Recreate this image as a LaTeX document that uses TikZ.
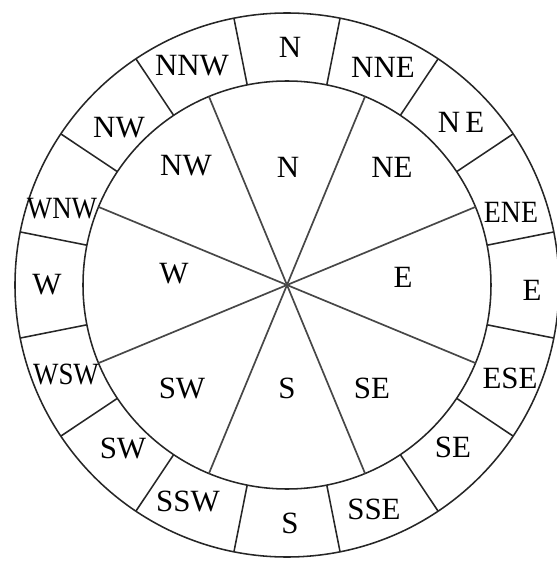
\documentclass[tikz,border=0pt]{standalone}
\usepackage{fontspec}
\setmainfont{Liberation Serif}
\usetikzlibrary{positioning}

\begin{document}
\begin{tikzpicture}[every node/.style={font=\fontsize{22}{26}\selectfont},
    rim/.style={line width=1.1pt,draw=black!85},
    spoke/.style={line width=1.2pt,draw=black!72}]
    \useasboundingbox (-7.175,-6.9) rectangle (6.75,7.125);
    \coordinate (c) at (0,0);
    % the two circles
    \draw[rim] (c) circle (6.8);
    \draw[rim] (c) circle (5.1);
    % eight sectors inside
    \foreach \a in {22.5,67.5,...,337.5}
      \draw[spoke] (c) -- (\a:5.1);
    % sixteen cells in the ring
    \foreach \a in {11.25,33.75,...,348.75}
      \draw[rim] (\a:5.1) -- (\a:6.8);
    % ring labels
    \node (oN)   at (0.075,5.95)   {N};
    \node (oNNE) at (2.4,5.45)     {NNE};
    \node (oNE)  at (4.35,4.075)   {N\,E};
    \node (oENE) at (5.6,1.825)    {\scalebox{0.9}[1]{ENE}};
    \node (oE)   at (6.125,-0.125) {E};
    \node (oESE) at (5.575,-2.325) {ESE};
    \node (oSE)  at (4.15,-4.05)   {SE};
    \node (oSSE) at (2.175,-5.6)   {SSE};
    \node (oS)   at (0.075,-5.95)  {S};
    \node (oSSW) at (-2.475,-5.4)  {SSW};
    \node (oSW)  at (-4.1,-4.075)  {SW};
    \node (oWSW) at (-5.525,-2.225) {\scalebox{0.87}[1]{WSW}};
    \node (oW)   at (-6.0,0)       {W};
    \node (oWNW) at (-5.625,1.9)   {\scalebox{0.87}[1]{WNW}};
    \node (oNW)  at (-4.2,3.925)   {NW};
    \node (oNNW) at (-2.375,5.475) {NNW};
    % sector labels
    \node (iN)  at (0.025,2.95)   {N};
    \node (iNE) at (2.625,2.95)   {NE};
    \node (iE)  at (2.9,0.2)      {E};
    \node (iSE) at (2.125,-2.575) {SE};
    \node (iS)  at (0,-2.575)     {S};
    \node (iSW) at (-2.625,-2.575) {SW};
    \node (iW)  at (-2.825,0.275) {W};
    \node (iNW) at (-2.525,2.975) {NW};
\end{tikzpicture}
\end{document}
